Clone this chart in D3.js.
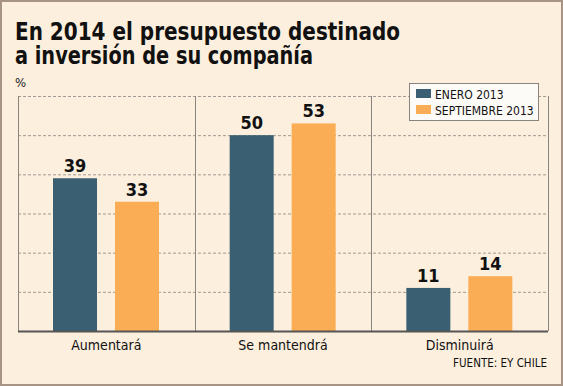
<!DOCTYPE html>
<html>
<head>
<meta charset="utf-8">
<script src="https://cdn.jsdelivr.net/npm/d3@7"></script>
<style>
  body { margin: 0; background: #fff; }
  text { font-family: "DejaVu Sans Condensed", "DejaVu Sans", sans-serif; }
</style>
</head>
<body>
<div id="chart"></div>
<script>
// categorias y series
var categories = ['Aumentará', 'Se mantendrá', 'Disminuirá'];
var seriesNames = ['ENERO 2013', 'SEPTIEMBRE 2013'];
var enero = [39, 50, 11];
var septiembre = [33, 53, 14];
var yTicks = [0, 10, 20, 30, 40, 50, 60];

var width = 563, height = 386;
var margin = {left: 18, right: 15, top: 96, bottom: 55};
var innerWidth = width - margin.left - margin.right;
var innerHeight = height - margin.top - margin.bottom;

var colors = ['#3a5f72', '#fbad55'];

var svg = d3.select('#chart').append('svg')
    .attr('width', width)
    .attr('height', height);

// fondo y borde
svg.append('rect')
    .attr('x', 1).attr('y', 1)
    .attr('width', width - 2).attr('height', height - 2)
    .attr('fill', '#fcefdd')
    .attr('stroke', '#a89484')
    .attr('stroke-width', 2);

// titulo
svg.append('text')
    .attr('x', 15).attr('y', 40)
    .attr('font-size', 24).attr('font-weight', 'bold')
    .attr('fill', '#111')
    .attr('textLength', 385).attr('lengthAdjust', 'spacingAndGlyphs')
    .text('En 2014 el presupuesto destinado');
svg.append('text')
    .attr('x', 15).attr('y', 64)
    .attr('font-size', 24).attr('font-weight', 'bold')
    .attr('fill', '#111')
    .attr('textLength', 298).attr('lengthAdjust', 'spacingAndGlyphs')
    .text('a inversión de su compañía');

svg.append('text')
    .attr('x', 15).attr('y', 87)
    .attr('font-size', 13).attr('fill', '#222')
    .text('%');

var g = svg.append('g')
    .attr('transform', 'translate(' + margin.left + ',' + margin.top + ')');

var x0 = d3.scaleBand()
    .domain(categories)
    .range([0, innerWidth]);

var x1 = d3.scaleBand()
    .domain(seriesNames)
    .range([35, 141])
    .paddingInner(0.29);

var y = d3.scaleLinear()
    .domain([0, 60])
    .range([innerHeight, 0]);

// lineas de grilla punteadas
g.selectAll('.grid')
    .data(yTicks.slice(1))
    .enter().append('line')
    .attr('class', 'grid')
    .attr('x1', 0).attr('x2', innerWidth)
    .attr('y1', function(d){ return y(d) + 0.5; })
    .attr('y2', function(d){ return y(d) + 0.5; })
    .attr('stroke', '#a09a94')
    .attr('stroke-width', 1)
    .attr('stroke-dasharray', '3,2');

// separadores verticales
var seps = [0].concat(categories.map(function(c){ return x0(c) + x0.bandwidth(); }));
g.selectAll('.sep')
    .data(seps)
    .enter().append('line')
    .attr('class', 'sep')
    .attr('x1', function(d){ return Math.round(d) + 0.5; })
    .attr('x2', function(d){ return Math.round(d) + 0.5; })
    .attr('y1', y(60)).attr('y2', y(0))
    .attr('stroke', '#8a847e')
    .attr('stroke-width', 1);

var rows = categories.map(function(c, i){
  return {cat: c, values: [enero[i], septiembre[i]]};
});

var groups = g.selectAll('.cat')
    .data(rows)
    .enter().append('g')
    .attr('transform', function(d){ return 'translate(' + x0(d.cat) + ',0)'; });

groups.selectAll('rect')
    .data(function(d){ return d.values.map(function(v, j){ return {s: seriesNames[j], v: v, j: j}; }); })
    .enter().append('rect')
    .attr('x', function(d){ return x1(d.s); })
    .attr('y', function(d){ return y(d.v); })
    .attr('width', x1.bandwidth())
    .attr('height', function(d){ return y(0) - y(d.v); })
    .attr('fill', function(d){ return colors[d.j]; });

groups.selectAll('.val')
    .data(function(d){ return d.values.map(function(v, j){ return {s: seriesNames[j], v: v}; }); })
    .enter().append('text')
    .attr('class', 'val')
    .attr('x', function(d){ return x1(d.s) + x1.bandwidth() / 2; })
    .attr('y', function(d){ return y(d.v) - 6; })
    .attr('text-anchor', 'middle')
    .attr('font-size', 18).attr('font-weight', 'bold')
    .attr('fill', '#111')
    .text(function(d){ return d.v; });

// eje base
g.append('line')
    .attr('x1', 0).attr('x2', innerWidth)
    .attr('y1', y(0) + 0.5).attr('y2', y(0) + 0.5)
    .attr('stroke', '#555')
    .attr('stroke-width', 2);

var xAxis = d3.axisBottom(x0).tickSize(0).tickPadding(9);
var xAxisG = g.append('g')
    .attr('transform', 'translate(0,' + innerHeight + ')')
    .call(xAxis);
xAxisG.select('.domain').remove();
xAxisG.selectAll('text')
    .attr('font-size', 14)
    .attr('font-family', '"DejaVu Sans Condensed", "DejaVu Sans", sans-serif')
    .attr('fill', '#111');

// leyenda
var legendG = svg.append('g')
    .attr('transform', 'translate(409,83)');
legendG.append('rect')
    .attr('x', 0.5).attr('y', 0.5)
    .attr('width', 129).attr('height', 37)
    .attr('fill', '#fdfbf8')
    .attr('stroke', '#8a847e');

seriesNames.forEach(function(name, i){
  var row = legendG.append('g')
      .attr('transform', 'translate(7,' + (6 + i * 16) + ')');
  row.append('rect')
      .attr('width', 15).attr('height', 9)
      .attr('fill', colors[i]);
  row.append('text')
      .attr('x', 19).attr('y', 9.5)
      .attr('font-size', 12)
      .attr('fill', '#111')
      .text(name);
});

svg.append('text')
    .attr('x', 547).attr('y', 367)
    .attr('text-anchor', 'end')
    .attr('font-size', 11.5)
    .attr('fill', '#111')
    .text('FUENTE: EY CHILE');
</script>
</body>
</html>
